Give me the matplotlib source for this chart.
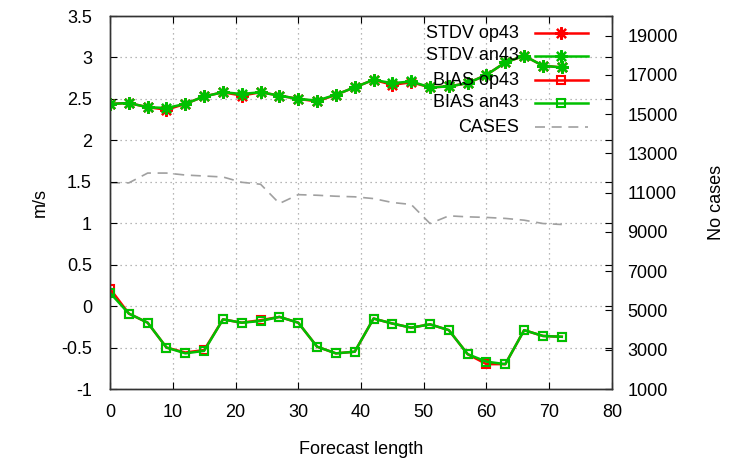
import matplotlib
matplotlib.use('Agg')
import matplotlib.pyplot as plt

plt.rcParams['font.family'] = ['Liberation Sans', 'DejaVu Sans']
plt.rcParams['font.size'] = 13

# Forecast lengths (hours)
lead = [0, 3, 6, 9, 12, 15, 18, 21, 24, 27, 30, 33, 36, 39, 42, 45, 48,
        51, 54, 57, 60, 63, 66, 69, 72]

# Standard deviation (m/s)
stdv_op43 = [2.44, 2.45, 2.40, 2.37, 2.44, 2.53, 2.58, 2.54, 2.58, 2.54, 2.50, 2.47, 2.55,
             2.64, 2.73, 2.67, 2.70, 2.64, 2.65, 2.69, 2.79, 2.94, 3.02, 2.90, 2.88]
stdv_an43 = [2.44, 2.45, 2.40, 2.39, 2.44, 2.53, 2.58, 2.56, 2.58, 2.54, 2.50, 2.48, 2.55,
             2.64, 2.73, 2.69, 2.71, 2.64, 2.65, 2.69, 2.79, 2.94, 3.02, 2.90, 2.88]

# Bias (m/s)
bias_op43 = [0.21, -0.09, -0.20, -0.50, -0.56, -0.53, -0.16, -0.20, -0.17, -0.13, -0.20, -0.49, -0.57,
             -0.55, -0.15, -0.21, -0.26, -0.22, -0.29, -0.58, -0.70, -0.70, -0.29, -0.36, -0.37]
bias_an43 = [0.16, -0.09, -0.20, -0.50, -0.57, -0.54, -0.16, -0.20, -0.18, -0.13, -0.20, -0.49, -0.57,
             -0.55, -0.15, -0.21, -0.26, -0.22, -0.29, -0.58, -0.67, -0.70, -0.29, -0.36, -0.37]

# Number of cases
cases = [11500, 11500, 12000, 12000, 11900, 11850, 11800, 11530, 11430, 10450, 10900, 10870, 10820,
         10790, 10700, 10500, 10400, 9430, 9820, 9770, 9740, 9690, 9600, 9430, 9380]

red = '#ff0000'
green = '#00c000'
star = (8, 2, 0)

fig = plt.figure(figsize=(7.31, 4.59), dpi=100)
ax = fig.add_axes([0.1505, 0.1525, 0.6867, 0.8126])
ax2 = ax.twinx()

ax2.plot(lead, cases, color='#a0a0a0', lw=1.2, dashes=(6, 4), zorder=1)

ax.set_zorder(ax2.get_zorder() + 1)
ax.patch.set_visible(False)

ax.plot(lead, stdv_op43, color=red, lw=1.8, marker=star, ms=9, mew=1.6)
ax.plot(lead, stdv_an43, color=green, lw=1.8, marker=star, ms=9, mew=1.6)
ax.plot(lead, bias_op43, color=red, lw=1.8, marker='s', ms=6, mew=1.5, mfc='none')
ax.plot(lead, bias_an43, color=green, lw=1.8, marker='s', ms=6, mew=1.5, mfc='none')

ax.set_xlim(0, 80)
ax.set_ylim(-1, 3.5)
ax.set_xticks(range(0, 81, 10))
ax.set_yticks([-1, -0.5, 0, 0.5, 1, 1.5, 2, 2.5, 3, 3.5])
ax.set_yticklabels(['-1', '-0.5', '0', '0.5', '1', '1.5', '2', '2.5', '3', '3.5'])
ax2.set_ylim(1000, 20000)
ax2.set_yticks(range(1000, 19001, 2000))

ax.grid(True, color='#a0a0a0', linestyle=(0, (1, 3)), lw=0.9)
ax.tick_params(axis='x', direction='in', top=True, length=5, pad=11)
ax.tick_params(axis='y', direction='in', right=True, length=5, pad=13)
ax2.tick_params(axis='y', direction='in', length=5, pad=11)

for a in (ax, ax2):
    for s in a.spines.values():
        s.set_color('#333333')
        s.set_linewidth(1.0)

ax.set_xlabel('Forecast length', labelpad=14)
ax.set_ylabel('m/s', labelpad=9)
ax2.set_ylabel('No cases', labelpad=22)

# key in the upper right corner, labels right-aligned with samples after them
keys = [('STDV op43', red, star, red), ('STDV an43', green, star, green),
        ('BIAS op43', red, 's', 'none'), ('BIAS an43', green, 's', 'none')]
rows = [0.954, 0.893, 0.828, 0.767, 0.702]
for (label, col, mk, fc), yk in zip(keys, rows):
    ax.text(0.815, yk, label, transform=ax.transAxes, ha='right', va='center')
    ax.plot([0.847, 0.952], [yk, yk], transform=ax.transAxes, color=col, lw=1.8, clip_on=False)
    if mk == 's':
        ax.plot([0.898], [yk], transform=ax.transAxes, marker=mk, ms=6, mew=1.5, mfc=fc,
                color=col, clip_on=False)
    else:
        ax.plot([0.898], [yk], transform=ax.transAxes, marker=mk, ms=9, mew=1.6, color=col,
                clip_on=False)
ax.text(0.815, rows[4], 'CASES', transform=ax.transAxes, ha='right', va='center')
ax.plot([0.847, 0.952], [rows[4], rows[4]], transform=ax.transAxes, color='#a0a0a0', lw=1.2,
        dashes=(6, 4), clip_on=False)

plt.savefig('out.png', dpi=100)
